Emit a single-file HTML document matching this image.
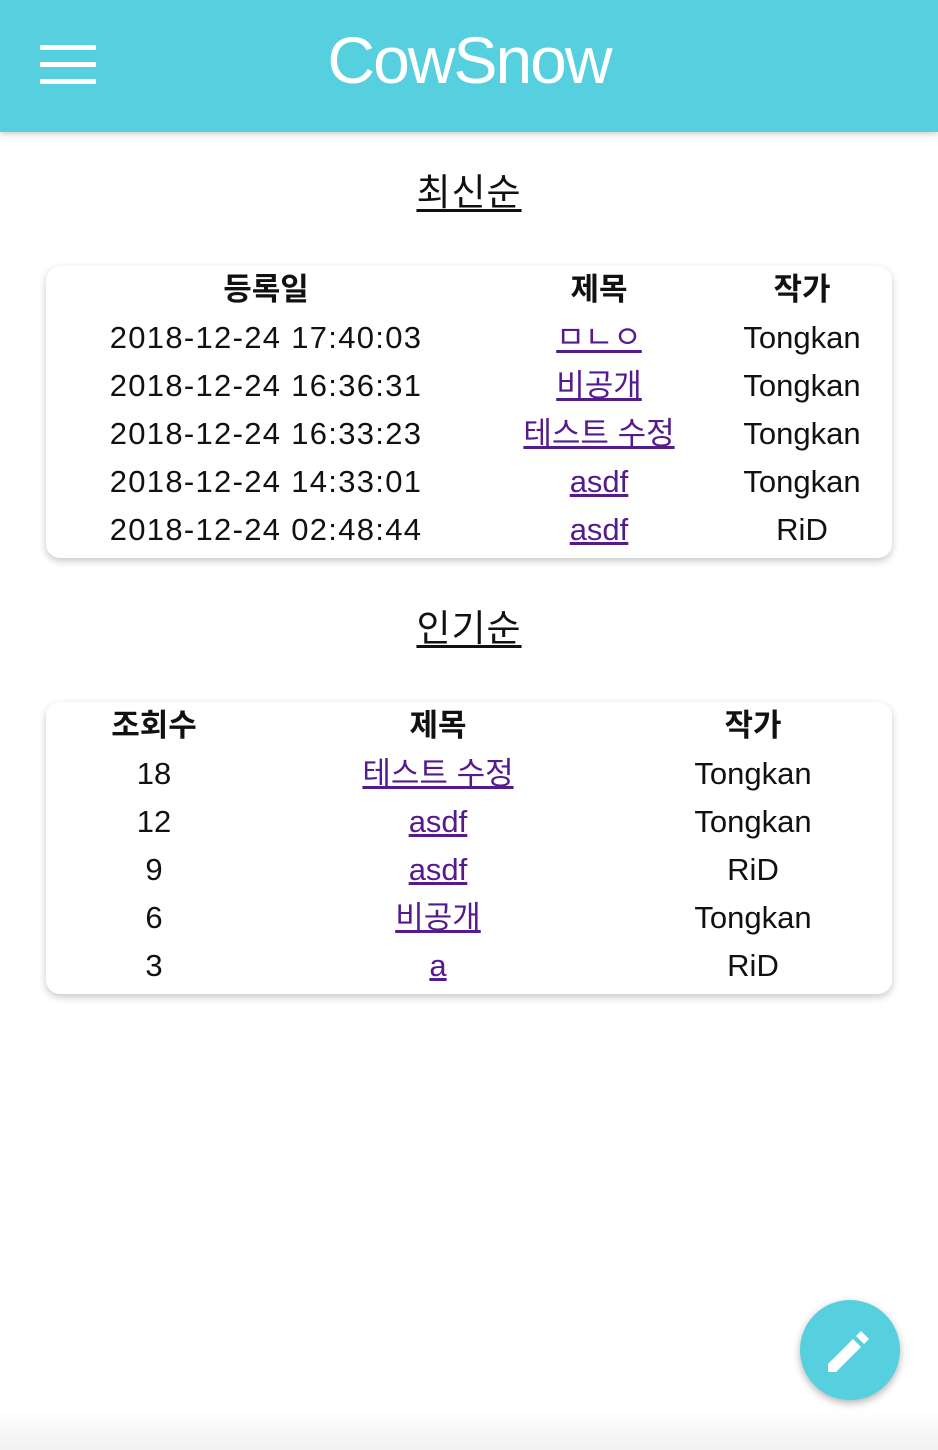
<!DOCTYPE html>
<html><head><meta charset="utf-8"><style>
*{margin:0;padding:0;box-sizing:border-box}
body{width:938px;height:1450px;position:relative;background:#fff;overflow:hidden;font-family:"Liberation Sans","Noto Sans CJK KR",sans-serif;color:#111}
.hdr{position:absolute;left:0;top:0;width:938px;height:132px;background:#56d0df;box-shadow:0 2px 6px rgba(0,0,0,.2)}
.burger{position:absolute;left:40px;top:45px;width:56px;height:40px}
.burger i{position:absolute;left:0;width:56px;height:5px;background:#fff}
.title{position:absolute;left:0;width:938px;top:22px;text-align:center;color:#fff;font-size:66px;letter-spacing:-2px}
.h2{position:absolute;left:0;width:938px;text-align:center;font-size:37px;letter-spacing:1px;text-decoration:underline;text-underline-offset:4px}
.card{position:absolute;left:46px;width:846px;height:292px;background:#fff;border-radius:14px;box-shadow:0 3px 8px rgba(0,0,0,.22)}
.c{position:absolute;transform:translateX(-50%);white-space:nowrap;font-size:31px;line-height:48px}
.d{letter-spacing:1.3px}
.th{font-weight:bold}
a{color:#551a8b;text-decoration:underline}
.fab{position:absolute;left:800px;top:1300px;width:100px;height:100px;border-radius:50%;background:#56d0df;box-shadow:0 3px 8px rgba(0,0,0,.3)}
.shade{position:absolute;left:0;top:1410px;width:938px;height:40px;background:linear-gradient(#fff,#f1f1f1)}
</style></head><body>
<div class="shade"></div>
<div class="hdr">
 <div class="burger"><i style="top:0"></i><i style="top:17px"></i><i style="top:34px"></i></div>
 <div class="title">CowSnow</div>
</div>
<div class="h2" style="top:162px">최신순</div>
<div class="card" style="top:266px">
 <div class="c th" style="left:220px;top:0">등록일</div>
 <div class="c th" style="left:553px;top:0">제목</div>
 <div class="c th" style="left:756px;top:0">작가</div>
 <div class="c d" style="left:220px;top:48px">2018-12-24 17:40:03</div>
 <div class="c" style="left:553px;top:48px"><a>ㅁㄴㅇ</a></div>
 <div class="c" style="left:756px;top:48px">Tongkan</div>
 <div class="c d" style="left:220px;top:96px">2018-12-24 16:36:31</div>
 <div class="c" style="left:553px;top:96px"><a>비공개</a></div>
 <div class="c" style="left:756px;top:96px">Tongkan</div>
 <div class="c d" style="left:220px;top:144px">2018-12-24 16:33:23</div>
 <div class="c" style="left:553px;top:144px"><a>테스트 수정</a></div>
 <div class="c" style="left:756px;top:144px">Tongkan</div>
 <div class="c d" style="left:220px;top:192px">2018-12-24 14:33:01</div>
 <div class="c" style="left:553px;top:192px"><a>asdf</a></div>
 <div class="c" style="left:756px;top:192px">Tongkan</div>
 <div class="c d" style="left:220px;top:240px">2018-12-24 02:48:44</div>
 <div class="c" style="left:553px;top:240px"><a>asdf</a></div>
 <div class="c" style="left:756px;top:240px">RiD</div>
</div>
<div class="h2" style="top:598px">인기순</div>
<div class="card" style="top:702px">
 <div class="c th" style="left:108px;top:0">조회수</div>
 <div class="c th" style="left:392px;top:0">제목</div>
 <div class="c th" style="left:707px;top:0">작가</div>
 <div class="c" style="left:108px;top:48px">18</div>
 <div class="c" style="left:392px;top:48px"><a>테스트 수정</a></div>
 <div class="c" style="left:707px;top:48px">Tongkan</div>
 <div class="c" style="left:108px;top:96px">12</div>
 <div class="c" style="left:392px;top:96px"><a>asdf</a></div>
 <div class="c" style="left:707px;top:96px">Tongkan</div>
 <div class="c" style="left:108px;top:144px">9</div>
 <div class="c" style="left:392px;top:144px"><a>asdf</a></div>
 <div class="c" style="left:707px;top:144px">RiD</div>
 <div class="c" style="left:108px;top:192px">6</div>
 <div class="c" style="left:392px;top:192px"><a>비공개</a></div>
 <div class="c" style="left:707px;top:192px">Tongkan</div>
 <div class="c" style="left:108px;top:240px">3</div>
 <div class="c" style="left:392px;top:240px"><a>a</a></div>
 <div class="c" style="left:707px;top:240px">RiD</div>
</div>
<div class="fab">
 <svg width="100" height="100" viewBox="0 0 100 100"><g fill="#fff"><polygon points="28,64 28,72 36,72 61,47 53,39"/><polygon points="56,36 64,44 69,39 61,31"/></g></svg>
</div>
</body></html>
